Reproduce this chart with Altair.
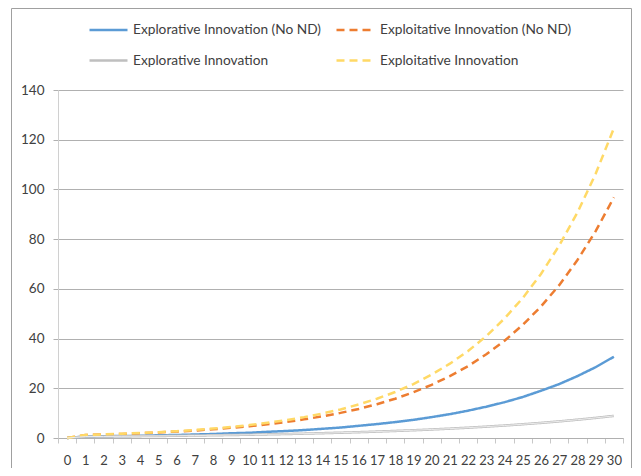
import altair as alt
import pandas as pd

steps = list(range(31))
series_names = [
    "Explorative Innovation (No ND)",
    "Exploitative Innovation (No ND)",
    "Explorative Innovation",
    "Exploitative Innovation",
]
explor_no_nd = [0, 0.6, 0.7, 0.8, 0.9, 1.1, 1.2, 1.4, 1.6, 1.9, 2.1, 2.5, 2.8, 3.2, 3.7, 4.2,
                4.9, 5.6, 6.4, 7.3, 8.4, 9.6, 11.0, 12.6, 14.4, 16.5, 19.0, 21.7, 24.9, 28.5, 32.7]
exploit_no_nd = [0, 1.2, 1.4, 1.6, 1.9, 2.2, 2.6, 3.0, 3.5, 4.1, 4.7, 5.5, 6.4, 7.5, 8.7, 10.1,
                 11.7, 13.6, 15.8, 18.4, 21.4, 24.9, 28.9, 33.7, 39.1, 45.5, 52.9, 61.5, 71.6, 83.2, 96.8]
explor = [0, 0.56, 0.62, 0.68, 0.75, 0.82, 0.9, 0.99, 1.09, 1.2, 1.32, 1.46, 1.6, 1.76, 1.94, 2.13,
          2.34, 2.58, 2.84, 3.12, 3.43, 3.77, 4.15, 4.57, 5.02, 5.53, 6.08, 6.69, 7.36, 8.09, 8.9]
exploit = [0, 1.25, 1.46, 1.72, 2.0, 2.36, 2.76, 3.24, 3.79, 4.45, 5.21, 6.11, 7.16, 8.39, 9.83, 11.5,
           13.5, 15.8, 18.5, 21.7, 25.5, 29.9, 35.0, 41.0, 48.1, 56.3, 66.0, 77.4, 90.7, 106.3, 124.6]
y_ticks = [0, 20, 40, 60, 80, 100, 120, 140]

colors = ["#5b9bd5", "#ed7d31", "#bfbfbf", "#ffd966"]
dashes = [[1, 0], [8, 5], [1, 0], [8, 5]]

rows = []
for name, vals in zip(series_names, [explor_no_nd, exploit_no_nd, explor, exploit]):
    for t, v in zip(steps, vals):
        rows.append({"t": t, "value": v, "series": name})
df = pd.DataFrame(rows)

FONT = "Lato"

legend_kw = dict(
    title=None, orient="none", legendX=30, legendY=-81, columns=2, direction="horizontal",
    symbolType="stroke", symbolSize=1444, symbolStrokeWidth=2.5,
    labelFont=FONT, labelFontSize=13.7, labelColor="#404040", labelLimit=400,
    labelOffset=4, columnPadding=10, rowPadding=3, padding=0,
)

x_enc = alt.X(
    "t:O",
    scale=alt.Scale(paddingInner=0, paddingOuter=0),
    axis=alt.Axis(
        title=None, labelAngle=0, tickBand="extent", grid=False,
        domainColor="#b0b0b0", tickColor="#c8c8c8", tickSize=5,
        labelFont=FONT, labelFontSize=13, labelColor="#404040", labelPadding=11,
    ),
)
y_enc = alt.Y(
    "value:Q",
    scale=alt.Scale(domain=[0, 140], nice=False),
    axis=alt.Axis(
        title=None, values=y_ticks, grid=True, gridColor="#b0b0b0",
        domainColor="#d0d0d0", tickColor="#b0b0b0", tickSize=5,
        labelFont=FONT, labelFontSize=13.5, labelColor="#404040", labelPadding=9,
    ),
)

lines = alt.Chart(df).mark_line(strokeWidth=2.5, strokeCap="butt").encode(
    x=x_enc,
    y=y_enc,
    color=alt.Color("series:N", scale=alt.Scale(domain=series_names, range=colors),
                    legend=alt.Legend(**legend_kw)),
    strokeDash=alt.StrokeDash("series:N", scale=alt.Scale(domain=series_names, range=dashes),
                              legend=alt.Legend(**legend_kw)),
)

inner_gray = alt.Chart(df).transform_filter(
    alt.datum.series == "Explorative Innovation"
).mark_line(strokeWidth=1, color="#ececec").encode(
    x="t:O", y="value:Q"
)

frame = alt.Chart(pd.DataFrame({"k": [0]})).mark_rect(
    fill=None, stroke="#a0a0a0", strokeWidth=1
).encode(
    x=alt.value(-46.5), x2=alt.value(573.5), y=alt.value(-81.5), y2=alt.value(400)
)

chart = alt.layer(frame, lines, inner_gray).properties(
    width=565, height=348,
    autosize=alt.AutoSizeParams(type="none"),
    padding={"left": 50, "top": 82, "right": 10, "bottom": 30},
).configure_view(stroke=None)

chart.save("out.html", embed_options={"renderer": "svg", "actions": False})
